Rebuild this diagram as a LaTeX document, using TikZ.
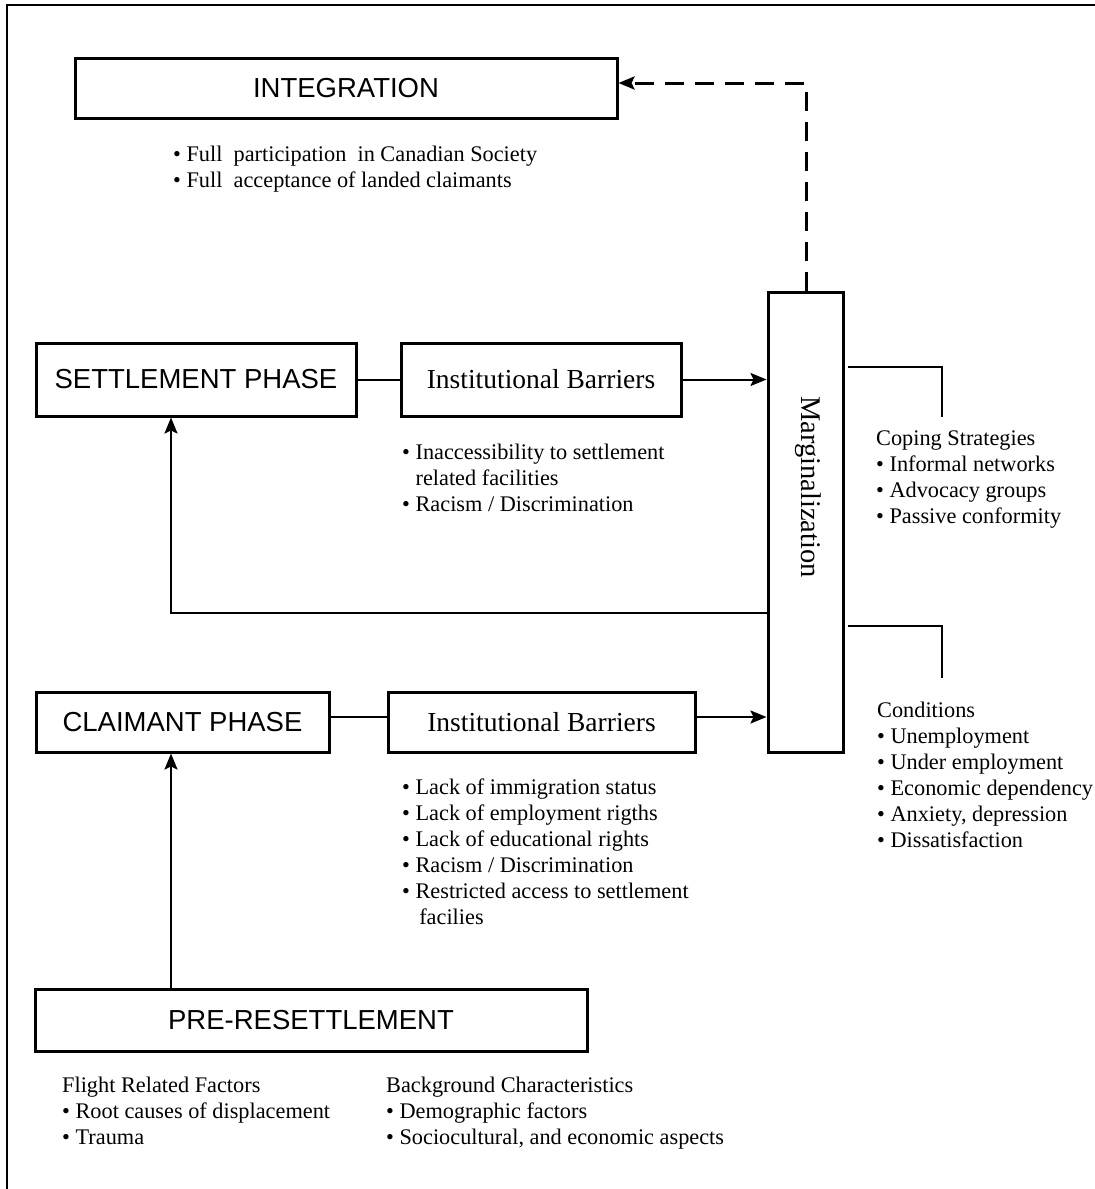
\documentclass[tikz,border=0pt]{standalone}
\usepackage{fontspec}
\setmainfont{Liberation Serif}
\newfontfamily\headfont{Liberation Sans}
\usetikzlibrary{arrows.meta}
\tikzset{
  phase/.style={draw, line width=3pt, inner sep=0pt, font=\headfont\fontsize{27.5}{30}\selectfont},
  barrier/.style={draw, line width=3pt, inner sep=0pt, font=\fontsize{27.5}{30}\selectfont},
  conn/.style={line width=2pt},
  arr/.style={conn, -{Stealth[length=16pt,width=13pt,inset=3pt]}},
  dsh/.style={line width=3pt, dash pattern=on 19pt off 11pt, -{Stealth[length=16pt,width=13pt,inset=3pt]}},
  note/.style={inner sep=0pt, anchor=north west, align=left, font=\fontsize{22.3}{26}\selectfont}
}
\begin{document}
\begin{tikzpicture}[x=1pt,y=-1pt]
\useasboundingbox (0,0) rectangle (1095,1189);
% frame (cropped)
\draw[line width=2pt] (7,1189) -- (7,5) -- (1095,5);

% boxes
\node[phase, minimum width=542pt, minimum height=60pt] (integ) at (346,88) {INTEGRATION};
\node[phase, minimum width=320pt, minimum height=73pt] (settle) at (196,379.5) {SETTLEMENT PHASE};
\node[barrier, minimum width=280pt, minimum height=73pt] (ib1) at (541,379.5) {Institutional Barriers};
\node[draw, line width=3pt, inner sep=0pt, minimum width=75pt, minimum height=460pt] (marg) at (805.5,522) {};
\node[rotate=-90, inner sep=0pt, font=\fontsize{28.5}{30}\selectfont] (margtxt) at (808,487) {Marginalization};
\node[phase, minimum width=293pt, minimum height=60pt] (claim) at (182.5,722) {CLAIMANT PHASE};
\node[barrier, minimum width=307pt, minimum height=60pt] (ib2) at (541.5,722) {Institutional Barriers};
\node[phase, minimum width=552pt, minimum height=62pt] (pre) at (311,1020) {PRE-RESETTLEMENT};

% texts
\node[note] (integnote) at (173,146) {• Full\ \ participation\ \ in Canadian Society\\• Full\ \ acceptance of landed claimants};
\node[note] (ib1note) at (402,444) {• Inaccessibility to settlement\\\phantom{• }related facilities\\• Racism / Discrimination};
\node[note] (ib2note) at (402,779) {• Lack of immigration status\\• Lack of employment rigths\\• Lack of educational rights\\• Racism / Discrimination\\• Restricted access to settlement\\\phantom{• }\,facilies};
\node[note] (coping) at (876,431) {Coping Strategies\\• Informal networks\\• Advocacy groups\\• Passive conformity};
\node[note] (cond) at (877,702) {Conditions\\• Unemployment\\• Under employment\\• Economic dependency\\• Anxiety, depression\\• Dissatisfaction};
\node[note] (flight) at (62,1077) {Flight Related Factors\\• Root causes of displacement\\• Trauma};
\node[note] (backg) at (386,1077) {Background Characteristics\\• Demographic factors\\• Sociocultural, and economic aspects};

% coordinates
\coordinate (fb) at (171,613);
\coordinate (ca) at (0,717);
\coordinate (dtop) at (806,83);
\coordinate (cb) at (942,367);
\coordinate (cd) at (942,626);

% connectors
\draw[conn] (settle) -- (ib1);
\draw[arr] (ib1.east) -- (ib1.east -| marg.west);
\draw[conn] (claim.east |- ca) -- (ib2.west |- ca);
\draw[arr] (ib2.east |- ca) -- (marg.west |- ca);
\draw[arr] (marg.west |- fb) -- (fb) -- (settle.south -| fb);
\draw[arr] (pre.north -| fb) -- (claim.south -| fb);
\draw[dsh] (marg.north -| dtop) -- (dtop) -- (dtop -| integ.east);
\draw[conn] ([xshift=3pt]marg.east |- cb) -- (cb) -- ++(0,50);
\draw[conn] ([xshift=3pt]marg.east |- cd) -- (cd) -- ++(0,52);
\end{tikzpicture}
\end{document}
